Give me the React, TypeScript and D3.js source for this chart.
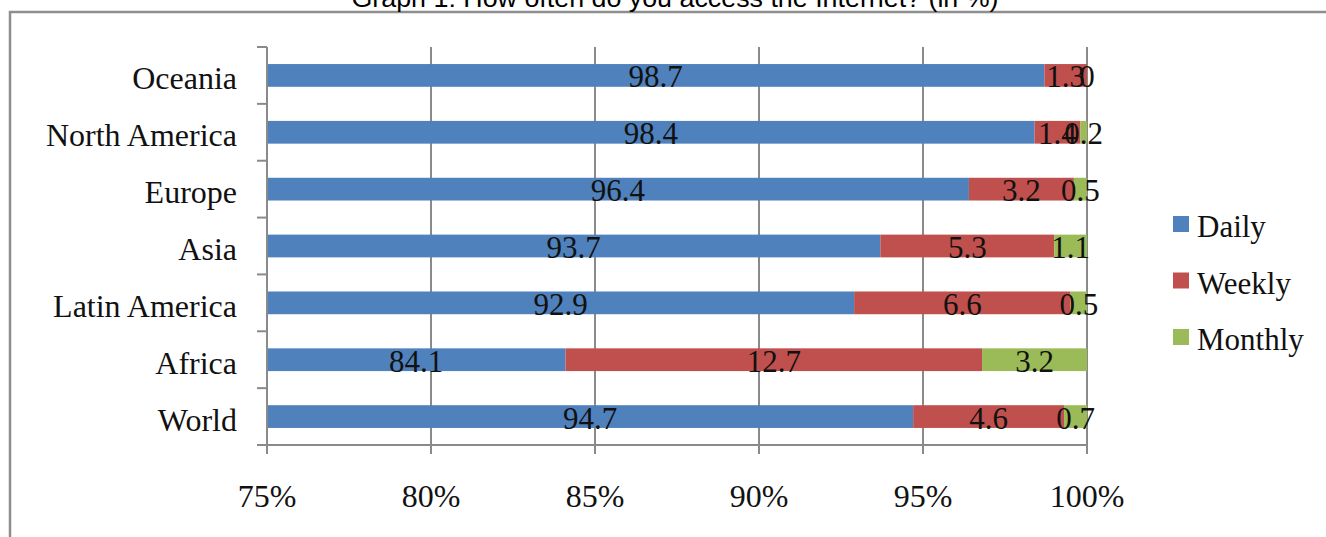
import { useEffect, useRef } from 'react';
import * as d3 from 'd3';

const regions = ['Oceania', 'North America', 'Europe', 'Asia', 'Latin America', 'Africa', 'World'];
const daily = [98.7, 98.4, 96.4, 93.7, 92.9, 84.1, 94.7];
const weekly = [1.3, 1.4, 3.2, 5.3, 6.6, 12.7, 4.6];
const monthly = [0, 0.2, 0.5, 1.1, 0.5, 3.2, 0.7];
const seriesNames = ['Daily', 'Weekly', 'Monthly'];
const seriesColors = ['#4F81BD', '#C0504D', '#9BBB59'];
const xTicks = [75, 80, 85, 90, 95, 100];

const W = 1326;
const H = 537;
const SERIF = '"Liberation Serif", "DejaVu Serif", serif';

export default function App() {
    const ref = useRef<SVGSVGElement>(null);

    useEffect(() => {
        if (!ref.current) return;
        document.body.style.margin = '0';
        const svg = d3.select(ref.current);
        svg.selectAll('*').remove();

        const x = d3.scaleLinear().domain([75, 100]).range([267, 1087]);
        const y = d3.scaleBand<string>()
            .domain(regions)
            .range([47, 445])
            .paddingInner(0.6)
            .paddingOuter(0.3);
        const step = y.step();

        // frame
        svg.append('rect')
            .attr('x', 10).attr('y', 12)
            .attr('width', W + 20).attr('height', H + 20)
            .attr('fill', 'none')
            .attr('stroke', '#8e8e8e')
            .attr('stroke-width', 2.5);

        // title (cut off at top)
        svg.append('text')
            .attr('x', 675).attr('y', 7)
            .attr('text-anchor', 'middle')
            .attr('font-family', '"Liberation Sans", Arial, sans-serif')
            .attr('font-size', 25)
            .attr('textLength', 647)
            .attr('lengthAdjust', 'spacingAndGlyphs')
            .text('Graph 1: How often do you access the Internet? (in %)');

        // gridlines
        svg.append('g').selectAll('line')
            .data(xTicks.slice(1))
            .join('line')
            .attr('x1', d => x(d)).attr('x2', d => x(d))
            .attr('y1', 47).attr('y2', 454)
            .attr('stroke', '#8a8a8a').attr('stroke-width', 2);

        // stacked bars
        const rows = regions.map((r, i) => ({ region: r, vals: [daily[i], weekly[i], monthly[i]] }));
        const segs: { region: string; s: number; start: number; end: number; v: number }[] = [];
        rows.forEach(row => {
            let acc = 0;
            row.vals.forEach((v, s) => {
                segs.push({ region: row.region, s, start: acc, end: acc + v, v });
                acc += v;
            });
        });
        const clampX = (v: number) => x(Math.max(75, Math.min(100, v)));

        svg.append('g').selectAll('rect')
            .data(segs)
            .join('rect')
            .attr('x', d => clampX(d.start))
            .attr('width', d => Math.max(0, clampX(d.end) - clampX(d.start)))
            .attr('y', d => y(d.region)!)
            .attr('height', y.bandwidth())
            .attr('fill', d => seriesColors[d.s]);

        // data labels
        svg.append('g').selectAll('text')
            .data(segs)
            .join('text')
            .attr('x', d => (clampX(d.start) + clampX(d.end)) / 2)
            .attr('y', d => y(d.region)! + y.bandwidth() / 2 + 12)
            .attr('text-anchor', 'middle')
            .attr('font-family', SERIF)
            .attr('font-size', 31)
            .attr('fill', '#111')
            .text(d => d.v === 0 ? '0' : d3.format('.1f')(d.v));

        // y axis
        const axisColor = '#8a8a8a';
        svg.append('line')
            .attr('x1', 267).attr('x2', 267).attr('y1', 47).attr('y2', 454)
            .attr('stroke', axisColor).attr('stroke-width', 2);
        svg.append('g').selectAll('line')
            .data(d3.range(regions.length + 1))
            .join('line')
            .attr('x1', 257).attr('x2', 267)
            .attr('y1', i => 47 + i * step).attr('y2', i => 47 + i * step)
            .attr('stroke', axisColor).attr('stroke-width', 2);
        svg.append('g').selectAll('text')
            .data(regions)
            .join('text')
            .attr('x', 237)
            .attr('y', d => y(d)! + y.bandwidth() / 2 + 14)
            .attr('text-anchor', 'end')
            .attr('font-family', SERIF)
            .attr('font-size', 32)
            .attr('fill', '#111')
            .text(d => d);

        // x axis
        svg.append('line')
            .attr('x1', 257).attr('x2', 1087).attr('y1', 445).attr('y2', 445)
            .attr('stroke', axisColor).attr('stroke-width', 2);
        svg.append('g').selectAll('line')
            .data(xTicks)
            .join('line')
            .attr('x1', d => x(d)).attr('x2', d => x(d))
            .attr('y1', 445).attr('y2', 454)
            .attr('stroke', axisColor).attr('stroke-width', 2);
        svg.append('g').selectAll('text')
            .data(xTicks)
            .join('text')
            .attr('x', d => x(d))
            .attr('y', 507)
            .attr('text-anchor', 'middle')
            .attr('font-family', SERIF)
            .attr('font-size', 32)
            .attr('fill', '#111')
            .text(d => `${d}%`);

        // legend
        const legend = svg.append('g').selectAll('g')
            .data(seriesNames)
            .join('g')
            .attr('transform', (_, i) => `translate(1173,${216 + i * 56.5})`);
        legend.append('rect')
            .attr('width', 16).attr('height', 16)
            .attr('fill', (_, i) => seriesColors[i]);
        legend.append('text')
            .attr('x', 24).attr('y', 21)
            .attr('font-family', SERIF)
            .attr('font-size', 31)
            .attr('fill', '#111')
            .text(d => d);
    }, []);

    return <svg ref={ref} width={W} height={H} style={{ display: 'block', background: '#fff' }} />;
}
